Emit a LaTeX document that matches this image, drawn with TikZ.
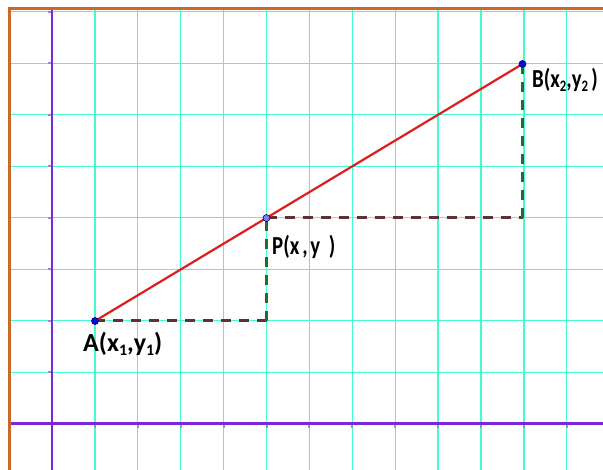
\documentclass[tikz,border=0pt]{standalone}
\usepackage{fontspec}
\usepackage{graphicx}
\newfontfamily\labfont{Carlito}
\usetikzlibrary{calc}
\definecolor{gridc}{RGB}{70,250,205}
\definecolor{axisc}{RGB}{125,40,215}
\definecolor{framec}{RGB}{205,105,40}
\definecolor{brownd}{RGB}{95,50,50}
\definecolor{greend}{RGB}{45,105,45}
\definecolor{segc}{RGB}{220,30,30}
\definecolor{ptc}{RGB}{10,10,230}
\definecolor{ptp}{RGB}{125,125,250}
\tikzset{
  gridline/.style={gridc, line width=1.3pt},
  axisline/.style={axisc, line width=2.6pt},
  tickmark/.style={axisc!60, line width=2pt},
  frameline/.style={framec, line width=2.6pt},
  hdash/.style={brownd, line width=3pt, dash pattern=on 10pt off 8pt},
  vdash/.style={greend, line width=3pt, dash pattern=on 10pt off 8pt},
  seg/.style={segc, line width=2.2pt},
  dot/.style={circle, inner sep=0pt, minimum size=7pt, draw=black!70!blue, line width=0.6pt, fill=ptc},
  dotp/.style={dot, fill=ptp},
  lab/.style={anchor=base west, inner sep=0pt, font=\labfont\bfseries\fontsize{26}{26}\selectfont},
}
\newcommand{\sbs}[1]{\raisebox{-0.28ex}{\fontsize{16}{16}\selectfont #1}}
\begin{document}
\begin{tikzpicture}[x=1pt,y=-1pt]
\useasboundingbox (0,0) rectangle (603,470);
\fill[white] (0,0) rectangle (603,470);
% grid
\foreach \k in {1,...,13} {
  \draw[gridline] ({52+42.9*\k},9) -- ({52+42.9*\k},470);
}
\foreach \k in {1,...,8} {
  \draw[gridline] (10,{423.7-51.5*\k}) -- (603,{423.7-51.5*\k});
}
% ticks
\foreach \k in {1,...,13} {
  \draw[tickmark] ({52+42.9*\k},423.7) -- ({52+42.9*\k},428);
}
\foreach \k in {1,...,8} {
  \draw[tickmark] (52,{423.7-51.5*\k}) -- (47.5,{423.7-51.5*\k});
}
% axes
\draw[axisline] (52,9) -- (52,470);
\draw[axisline] (10,423.7) -- (603,423.7);
% frame
\draw[frameline] (9.5,470) -- (9.5,8.3) -- (603,8.3);
% points
\coordinate (A) at (95,321);
\coordinate (P) at (266.5,218);
\coordinate (B) at (522.5,64);
\coordinate (C1) at (266.5,321);
\coordinate (C2) at (522.5,218);
\draw[hdash] (A) -- (C1);
\draw[vdash] (C1) -- (P);
\draw[hdash] (P) -- (C2);
\draw[vdash] (C2) -- (B);
\draw[seg] (A) -- (B);
\node[dot] (dA) at (A) {};
\node[dotp] (dP) at (P) {};
\node[dot] (dB) at (B) {};
% labels
\node[lab] (labA) at (83,352) {A(x\sbs{1},y\sbs{1})};
\node[lab] (labP) at (272,255) {\scalebox{0.8}[1]{P(x\hspace{4pt},\hspace{3pt}y\hspace{11pt})}};
\node[lab] (labB) at (532,88) {\scalebox{0.8}[1]{B(x\sbs{2},y\sbs{2}\hspace{4pt})}};
\end{tikzpicture}
\end{document}
